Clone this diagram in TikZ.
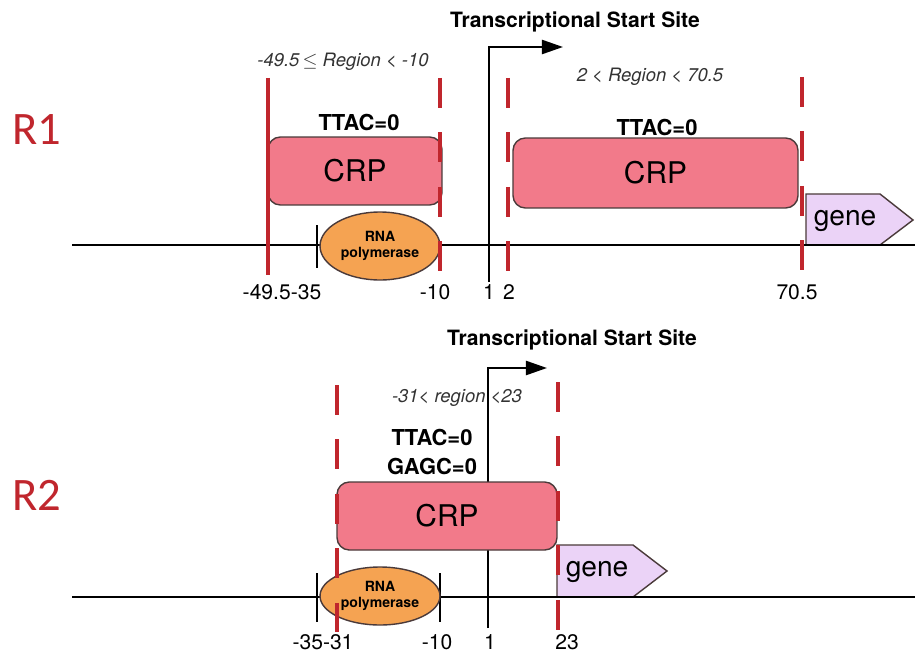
\documentclass[tikz,border=0pt]{standalone}
\usepackage{fontspec}
\setmainfont{TeX Gyre Heros}
\newfontfamily\rowfont{Carlito}
\usetikzlibrary{arrows.meta,shapes.geometric}
\definecolor{sitered}{HTML}{C0262D}
\definecolor{crppink}{HTML}{F27A8A}
\definecolor{polorange}{HTML}{F5A352}
\definecolor{genelilac}{HTML}{EBD3F7}
\definecolor{edgegray}{HTML}{4A3A3A}
\definecolor{regiongray}{HTML}{333333}
\tikzset{
  dna/.style={line width=1.6pt},
  tss/.style={line width=1.3pt,-{Triangle[length=12pt,width=8pt]}},
  bound/.style={sitered,line width=2.8pt},
  dashbound/.style={bound,dash pattern=on 17pt off 14pt},
  crp/.style={draw=edgegray,fill=crppink,rounded corners=7pt,line width=0.8pt,
    inner sep=0pt,font=\fontsize{17}{17}\selectfont},
  pol/.style={ellipse,draw=edgegray,fill=polorange,line width=0.8pt,inner sep=0pt,
    align=center,font=\bfseries\fontsize{8}{9}\selectfont},
  genebox/.style={draw=edgegray,fill=genelilac,line width=0.8pt},
  genetext/.style={font=\fontsize{16}{16}\selectfont},
  num/.style={font=\fontsize{12}{12}\selectfont},
  motif/.style={align=center,font=\bfseries\fontsize{12.5}{16.5}\selectfont},
  region/.style={text=regiongray,font=\itshape\fontsize{10.5}{10.5}\selectfont},
  tsslabel/.style={font=\bfseries\fontsize{12}{12}\selectfont},
  rowlabel/.style={text=sitered,font=\rowfont\fontsize{26.5}{26.5}\selectfont}
}
\begin{document}
\begin{tikzpicture}[x=0.02cm,y=-0.02cm]
\path[fill=white,use as bounding box] (0,0) rectangle (915,652);

\node[rowlabel] (r1) at (37,130) {R1};
\node[rowlabel] (r2) at (37,495) {R2};

\coordinate (dnaL1) at (72,245);
\coordinate (dnaR1) at (915,245);
\coordinate (dnaL2) at (72,597);
\coordinate (dnaR2) at (915,597);

\coordinate (tssA1) at (489,282);
\coordinate (tssB1) at (489,47);
\coordinate (tssC1) at (563,47);
\coordinate (tssA2) at (488,628);
\coordinate (tssB2) at (488,368);
\coordinate (tssC2) at (547,368);

\draw[genebox] (806,194) -- (880,194) -- (913,220) -- (880,245) -- (806,245) -- cycle;
\draw[genebox] (557,545) -- (633,545) -- (667,571) -- (633,597) -- (557,597) -- cycle;
\node[genetext] (gene1) at (845,221) {gene};
\node[genetext] (gene2) at (597,572) {gene};

\draw[dna] (dnaL1) -- (dnaR1);
\draw[dna] (dnaL2) -- (dnaR2);
\draw[dna] (317,225) -- (317,268);
\draw[dna] (317,573) -- (317,622);
\draw[dna] (440,573) -- (440,622);

\draw[tss] (tssA1) -- (tssB1) -- (tssC1);
\draw[tss] (tssA2) -- (tssB2) -- (tssC2);
\node[tsslabel] (tss1) at (575,22) {Transcriptional Start Site};
\node[tsslabel] (tss2) at (572,340) {Transcriptional Start Site};

\node[region] (reg1) at (343,62) {-49.5$\,\leq$ Region < -10};
\node[region] (reg2) at (650,77) {2 < Region < 70.5};
\node[region] (reg3) at (457,398) {-31< region <23};

\node[motif] (ttac1) at (359,122) {TTAC=0};
\node[motif] (ttac2) at (657,127) {TTAC=0};
\node[motif] (ttac3) at (432,452) {TTAC=0\\GAGC=0};

\node[crp,minimum width=3.48cm,minimum height=1.36cm] (crp1) at (355,171) {CRP};
\node[crp,minimum width=5.7cm,minimum height=1.4cm] (crp2) at (655.5,173) {CRP};
\node[crp,minimum width=4.4cm,minimum height=1.36cm] (crp3) at (447,516) {CRP};

\node[pol,minimum width=2.4cm,minimum height=1.36cm] (pol1) at (380,246) {RNA\\polymerase};
\node[pol,minimum width=2.4cm,minimum height=1.16cm] (pol2) at (380,596) {RNA\\polymerase};

\draw[bound] (268,78) -- (268,275);
\draw[dashbound] (440,78) -- (440,275);
\draw[dashbound] (508,78) -- (508,275);
\draw[dashbound] (802,77) -- (802,277);
\draw[dashbound] (337,385) -- (337,632);
\draw[dashbound] (558,382) -- (558,630);

\node[num] (n49) at (282,292) {-49.5-35};
\node[num] (n10a) at (435,292) {-10};
\node[num] (n1a) at (489,292) {1};
\node[num] (n2) at (509,292) {2};
\node[num] (n70) at (797,292) {70.5};
\node[num] (n35) at (323,642) {-35-31};
\node[num] (n10b) at (437,642) {-10};
\node[num] (n1b) at (490,642) {1};
\node[num] (n23) at (567,642) {23};
\end{tikzpicture}
\end{document}
